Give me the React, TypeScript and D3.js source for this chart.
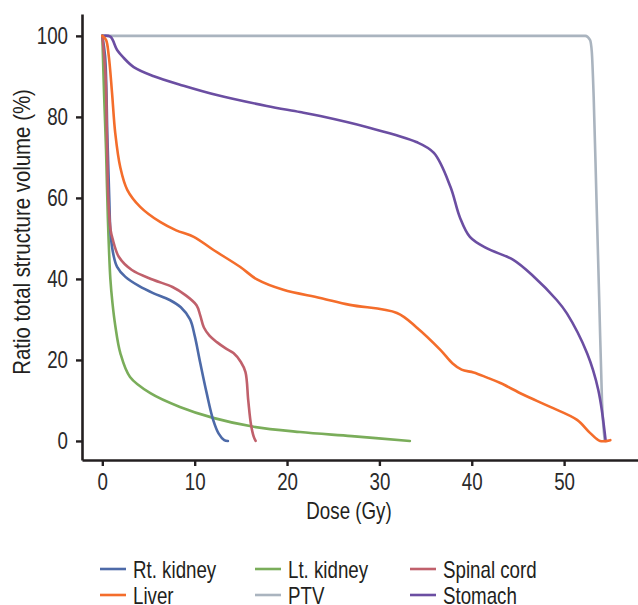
import React, { useEffect, useRef } from "react";
import * as d3 from "d3";

// dose (Gy), ratio of total structure volume (%)
const rtKidney = [
  [0, 100], [0.3, 95], [0.55, 75], [0.75, 60], [0.9, 51], [1.2, 46], [1.6, 43],
  [2.5, 40.5], [4, 38.2], [5.5, 36.5], [7.3, 34.8], [8.5, 33], [9.5, 30],
  [10, 26], [10.6, 19.3], [11.3, 11.8], [12, 5.2], [12.6, 1.8], [13.2, 0.2], [13.6, 0],
];
const ltKidney = [
  [0, 100], [0.2, 85], [0.4, 72], [0.6, 55], [0.87, 40], [1.1, 34], [1.4, 28.5],
  [1.95, 21.7], [3, 15.8], [5.2, 11.8], [8.4, 8.4], [12, 5.7], [16.4, 3.5],
  [21.4, 2.2], [27, 1.2], [33.3, 0],
];
const spinalCord = [
  [0, 100], [0.35, 90], [0.5, 75], [0.65, 60], [0.9, 52], [1.1, 50], [1.8, 45.4],
  [3.2, 42.2], [5.5, 39.8], [7.6, 38], [9, 36], [10.2, 33.5], [10.6, 31], [11, 28],
  [11.6, 26], [12.4, 24.4], [13.4, 22.8], [14.2, 21.7], [15, 19.5], [15.5, 17],
  [15.8, 10], [16.1, 4], [16.4, 1], [16.6, 0],
];
const liver = [
  [0, 100], [0.4, 99], [0.7, 95], [1.05, 86], [1.4, 76], [1.95, 67.5], [2.7, 62],
  [4.1, 57.8], [6.3, 54], [8, 52], [9.9, 50.4], [12, 47.2], [14.9, 43], [16.8, 39.8],
  [19.6, 37.3], [23.6, 35.3], [26.8, 33.6], [31.9, 31.6], [34, 28.1], [36.6, 22.5],
  [37.9, 19.2], [38.9, 17.6], [40.2, 16.9], [41.6, 15.7], [43.1, 14.3], [45.6, 11.4],
  [48.5, 8.4], [51.4, 5.2], [52.8, 2], [53.9, 0], [55, 0.2],
];
const ptv = [
  [0, 100], [52.3, 100], [52.8, 99], [53.0, 96], [53.2, 85], [53.5, 60],
  [53.8, 35], [54.1, 10], [54.4, 0],
];
const stomach = [
  [0, 100], [0.87, 99.8], [1.6, 96.5], [2.3, 94.6], [3.4, 92.3], [5.5, 90.1],
  [8.8, 87.7], [12.4, 85.4], [17.8, 82.7], [21.4, 81.2], [23.6, 80.2], [28.6, 77.5],
  [34, 73.8], [35.9, 71.1], [37.7, 62.7], [38.7, 55.3], [39.8, 50.4], [41.6, 47.6],
  [44.5, 44.7], [46.7, 40.6], [49.2, 34.8], [50.3, 31.5], [52.5, 21.6], [53.7, 12.6],
  [54.5, 0],
];

const series = [
  { name: "PTV", data: ptv, color: "#aab4bf" },
  { name: "Stomach", data: stomach, color: "#6b4ea2" },
  { name: "Lt. kidney", data: ltKidney, color: "#7aad5a" },
  { name: "Rt. kidney", data: rtKidney, color: "#4d6aa8" },
  { name: "Spinal cord", data: spinalCord, color: "#c0606b" },
  { name: "Liver", data: liver, color: "#f46d2b" },
];
const legendOrder = ["Rt. kidney", "Lt. kidney", "Spinal cord", "Liver", "PTV", "Stomach"];
const xTicks = [0, 10, 20, 30, 40, 50];
const yTicks = [0, 20, 40, 60, 80, 100];

const W = 638;
const H = 605;
const FONT = "'Liberation Sans', Arial, sans-serif";
const INK = "#231f20";
const FS = "24px";

// squeeze text horizontally to mimic the condensed face of the original
const condense = (sel, k = 0.78) => {
  sel.each(function () {
    const len = this.getComputedTextLength();
    d3.select(this).attr("textLength", len * k).attr("lengthAdjust", "spacingAndGlyphs");
  });
};

export default function App() {
  const ref = useRef(null);

  useEffect(() => {
    const svg = d3.select(ref.current);
    svg.selectAll("*").remove();

    const x = d3.scaleLinear().domain([-2.2, 58]).range([82, 638]);
    const y = d3.scaleLinear().domain([-4.7, 105.4]).range([460, 14]);

    const smooth = d3
      .line()
      .x((d) => x(d[0]))
      .y((d) => y(d[1]))
      .curve(d3.curveCatmullRom.alpha(0.5));
    const mono = d3
      .line()
      .x((d) => x(d[0]))
      .y((d) => y(d[1]))
      .curve(d3.curveMonotoneX);

    svg
      .append("g")
      .selectAll("path")
      .data(series)
      .join("path")
      .attr("d", (s) => (s.name === "PTV" ? mono(s.data) : smooth(s.data)))
      .attr("fill", "none")
      .attr("stroke", (s) => s.color)
      .attr("stroke-width", 2.6)
      .attr("stroke-linejoin", "round")
      .attr("stroke-linecap", "round");

    // axes
    const xAxis = d3.axisBottom(x).tickValues(xTicks).tickSize(6).tickSizeOuter(0).tickPadding(7);
    const yAxis = d3.axisLeft(y).tickValues(yTicks).tickSize(6).tickSizeOuter(0).tickPadding(8);

    const gx = svg.append("g").attr("transform", "translate(0,460)").call(xAxis);
    const gy = svg.append("g").attr("transform", "translate(82,0)").call(yAxis);

    [gx, gy].forEach((g) => {
      g.select(".domain").attr("stroke", INK).attr("stroke-width", 2.6);
      g.selectAll(".tick line").attr("stroke", INK).attr("stroke-width", 2.4);
      g.selectAll(".tick text")
        .attr("fill", "#2a2a2a")
        .style("font-family", FONT)
        .style("font-size", FS)
        .call(condense);
    });

    svg
      .append("text")
      .attr("x", 349)
      .attr("y", 519)
      .attr("text-anchor", "middle")
      .attr("fill", INK)
      .style("font-family", FONT)
      .style("font-size", FS)
      .text("Dose (Gy)")
      .call(condense);

    svg
      .append("text")
      .attr("transform", "translate(30,232) rotate(-90)")
      .attr("text-anchor", "middle")
      .attr("fill", INK)
      .style("font-family", FONT)
      .style("font-size", FS)
      .text("Ratio total structure volume (%)")
      .call(condense, 0.85);

    // legend
    const colX = [100, 255, 410];
    const rowY = [569, 595];
    const lg = svg
      .append("g")
      .selectAll("g")
      .data(legendOrder)
      .join("g")
      .attr("transform", (n, i) => `translate(${colX[i % 3]},${rowY[Math.floor(i / 3)]})`);
    lg.append("line")
      .attr("x1", 0)
      .attr("x2", 26)
      .attr("y1", 0)
      .attr("y2", 0)
      .attr("stroke", (n) => series.find((s) => s.name === n).color)
      .attr("stroke-width", 2.6);
    lg.append("text")
      .attr("x", 33)
      .attr("y", 0)
      .attr("dy", "0.36em")
      .attr("fill", INK)
      .style("font-family", FONT)
      .style("font-size", FS)
      .text((n) => n)
      .call(condense);
  }, []);

  return (
    <svg
      ref={ref}
      width={W}
      height={H}
      style={{ position: "absolute", left: 0, top: 0, background: "#fff" }}
    />
  );
}
